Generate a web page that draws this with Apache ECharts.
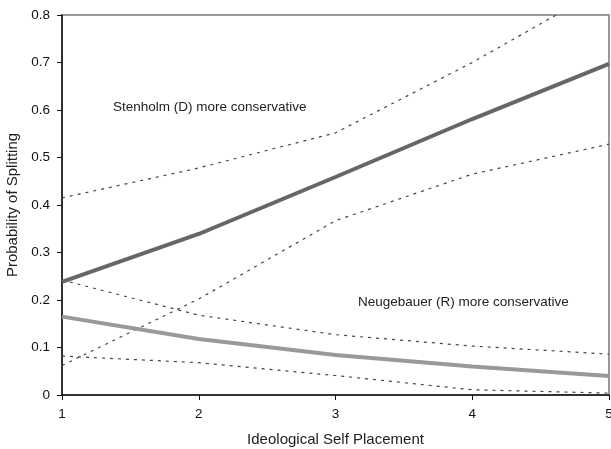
<!DOCTYPE html>
<html><head><meta charset="utf-8">
<script src="https://cdn.jsdelivr.net/npm/echarts@6/dist/echarts.min.js"></script>
<style>html,body{margin:0;padding:0;background:#fff}#c{width:611px;height:449px}</style>
</head><body><div id="c"></div>
<script>
var xs = [1, 2, 3, 4, 5];
var stenholm = [0.238, 0.339, 0.459, 0.581, 0.697];
var stenholmUpper = [0.415, 0.478, 0.552, 0.700, 0.863];
var stenholmLower = [0.062, 0.202, 0.367, 0.465, 0.528];
var neugebauer = [0.165, 0.118, 0.084, 0.060, 0.040];
var neugebauerUpper = [0.242, 0.168, 0.127, 0.103, 0.086];
var neugebauerLower = [0.082, 0.068, 0.041, 0.011, 0.004];
var yTicks = [0, 0.1, 0.2, 0.3, 0.4, 0.5, 0.6, 0.7, 0.8];

function pts(v){ return xs.map(function(x,i){ return [x, v[i]]; }); }
var font = 'Liberation Sans, Arial, sans-serif';
function mainLine(name, v, color){
  return {name:name, type:'line', data:pts(v), symbol:'none', silent:true,
    lineStyle:{color:color, width:4}, z:3};
}
function ciLine(name, v){
  return {name:name, type:'line', data:pts(v), symbol:'none', silent:true,
    lineStyle:{color:'#444', width:1.2, type:[3,5]}, z:2};
}
var chart = echarts.init(document.getElementById('c'));
chart.setOption({
  animation:false,
  grid:{left:62, right:2, top:15, bottom:54, containLabel:false, outerBoundsMode:'none',
    show:true, borderColor:'#999', borderWidth:2, backgroundColor:'#fff'},
  xAxis:{type:'value', min:1, max:5, interval:1,
    name:'Ideological Self Placement', nameLocation:'middle', nameGap:37,
    nameTextStyle:{fontFamily:font, fontSize:15, color:'#222'},
    axisLine:{show:true, lineStyle:{color:'#111', width:1.5}},
    axisTick:{show:true, length:5, inside:false, lineStyle:{color:'#111'}},
    axisLabel:{fontFamily:font, fontSize:13.5, color:'#111', margin:12, showMaxLabel:true, showMinLabel:true},
    splitLine:{show:false}},
  yAxis:{type:'value', min:0, max:0.8, interval:0.1,
    name:'Probability of Splitting', nameLocation:'middle', nameGap:41, nameRotate:90,
    nameTextStyle:{fontFamily:font, fontSize:15, color:'#222'},
    axisLine:{show:true, lineStyle:{color:'#111', width:1.5}},
    axisTick:{show:true, length:5, lineStyle:{color:'#111'}},
    axisLabel:{fontFamily:font, fontSize:13.5, color:'#111', margin:12,
      formatter:function(v){ var t = yTicks.find(function(k){return Math.abs(k-v)<1e-9;}); return t===0?'0':String(t); }},
    splitLine:{show:false}},
  graphic:[
    {type:'text', left:113, top:100, style:{text:'Stenholm (D) more conservative', fontFamily:font, fontSize:13.5, fill:'#222'}},
    {type:'text', left:358, top:295, style:{text:'Neugebauer (R) more conservative', fontFamily:font, fontSize:13.5, fill:'#222'}}
  ],
  series:[
    ciLine('Stenholm upper', stenholmUpper),
    ciLine('Stenholm lower', stenholmLower),
    ciLine('Neugebauer upper', neugebauerUpper),
    ciLine('Neugebauer lower', neugebauerLower),
    mainLine('Neugebauer', neugebauer, '#999'),
    mainLine('Stenholm', stenholm, '#666')
  ]
});
</script></body></html>
